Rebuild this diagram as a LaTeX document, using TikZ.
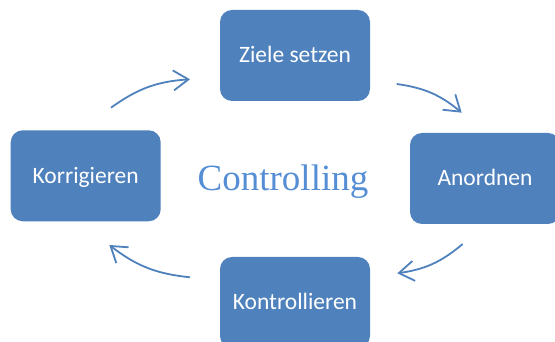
\documentclass[tikz,border=0pt]{standalone}
\usepackage{fontspec}
\setmainfont{Carlito}
\newfontfamily\titlefont{Liberation Serif}
\usetikzlibrary{arrows.meta}
\definecolor{boxblue}{HTML}{4F81BD}
\definecolor{arrowblue}{HTML}{4F81BD}
\definecolor{titleblue}{HTML}{558ED5}
\begin{document}
\begin{tikzpicture}[x=1pt,y=1pt,
  stepbox/.style={rectangle, rounded corners=12pt, fill=boxblue, draw=none,
    minimum width=150pt, minimum height=91pt, inner sep=0pt,
    text=white, font=\fontsize{23.5}{28}\selectfont,
    text height=15pt, text depth=0pt},
  cyc/.style={draw=arrowblue, line width=1.8pt,
    -{Straight Barb[length=15pt,width=20pt,line width=1.8pt]}, bend left=16}]
\useasboundingbox (0,0) rectangle (555,342);
\clip (0,0) rectangle (555,342);
\node[stepbox] (ziele) at (295,286.5) {Ziele setzen};
\node[stepbox] (anord) at (485,163.5) {Anordnen};
\node[stepbox] (kontr) at (295,39.5) {Kontrollieren};
\node[stepbox] (korr) at (85.7,166.2) {Korrigieren};
\node[text=titleblue, font=\titlefont\fontsize{37}{44}\selectfont, inner sep=0pt, anchor=base] (title) at (283,151.3) {Controlling};
\coordinate (k1) at (111,234.3);
\coordinate (z1) at (190,262.7);
\coordinate (z2) at (396.7,258);
\coordinate (a2) at (461.7,229.3);
\coordinate (a3) at (462.7,98);
\coordinate (t3) at (397.3,68.7);
\coordinate (t4) at (190,64.7);
\coordinate (k4) at (109.3,97);
\draw[cyc] (k1) to (z1);
\draw[cyc] (z2) to (a2);
\draw[cyc] (a3) to (t3);
\draw[cyc] (t4) to (k4);
\end{tikzpicture}
\end{document}
